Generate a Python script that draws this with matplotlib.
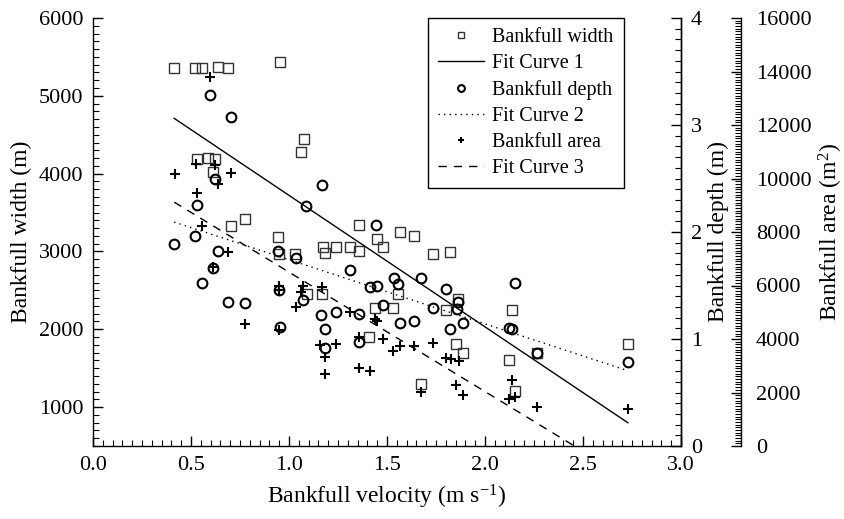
import matplotlib
matplotlib.use("Agg")
import matplotlib.pyplot as plt
from matplotlib.ticker import MultipleLocator

plt.rcParams['font.family'] = ['Liberation Serif', 'DejaVu Serif']
plt.rcParams['mathtext.fontset'] = 'custom'
plt.rcParams['mathtext.rm'] = 'Liberation Serif'
plt.rcParams['mathtext.it'] = 'Liberation Serif:italic'

# ---- data: bankfull width (m) ----
width_v = [0.414, 0.520, 0.554, 0.638, 0.689, 0.954, 1.075, 1.059, 0.531, 0.589,
           0.620, 0.610, 0.706, 0.774, 0.944, 0.947, 1.032, 1.356, 1.450, 1.567,
           1.640, 1.482, 1.173, 1.241, 1.309, 1.356, 1.183, 1.735, 1.823, 1.555,
           1.170, 1.092, 1.864, 1.441, 1.533, 1.802, 1.407, 1.854, 1.890, 1.676,
           2.136, 2.124, 2.263, 2.155, 2.729]
width_m = [5361, 5361, 5361, 5374, 5361, 5438, 4449, 4278, 4192, 4201,
           4192, 4025, 3327, 3417, 3190, 2963, 2963, 3336, 3156, 3250,
           3195, 3061, 3061, 3057, 3057, 3010, 2976, 2971, 2993, 2449,
           2449, 2449, 2383, 2269, 2269, 2248, 1897, 1807, 1691, 1293,
           2244, 1601, 1691, 1207, 1807]

# ---- data: bankfull depth (m) ----
depth_v = [0.596, 0.704, 0.620, 0.530, 0.520, 0.414, 0.637, 0.613, 0.554, 0.689,
           0.774, 0.944, 1.034, 0.947, 0.956, 1.071, 1.088, 1.168, 1.443, 1.309,
           1.535, 1.674, 1.555, 1.411, 1.450, 1.802, 1.165, 1.241, 1.356, 1.482,
           1.737, 1.863, 1.856, 1.567, 1.640, 1.823, 1.890, 1.185, 1.355, 1.185,
           2.153, 2.124, 2.136, 2.263, 2.729]
depth_m = [3.277, 3.075, 2.500, 2.248, 1.964, 1.890, 1.824, 1.668, 1.528, 1.347,
           1.335, 1.824, 1.761, 1.459, 1.116, 1.366, 2.242, 2.442, 2.065, 1.644,
           1.574, 1.574, 1.516, 1.490, 1.500, 1.471, 1.228, 1.251, 1.235, 1.319,
           1.288, 1.350, 1.279, 1.153, 1.172, 1.092, 1.153, 1.097, 0.973, 0.914,
           1.522, 1.107, 1.097, 0.867, 0.783]

# ---- data: bankfull area (m^2) ----
area_v = [0.596, 0.523, 0.620, 0.416, 0.706, 0.637, 0.530, 0.554, 0.689, 0.613,
          0.949, 1.071, 0.947, 1.063, 1.034, 0.774, 0.949, 1.170, 1.309, 1.441,
          1.450, 1.241, 1.355, 1.482, 1.533, 1.564, 1.640, 1.737, 1.802, 1.827,
          1.866, 1.160, 1.185, 1.185, 1.355, 1.411, 1.676, 1.852, 1.886, 2.136,
          2.124, 2.151, 2.265, 2.729]
area_m2 = [13778, 10538, 10486, 10164, 10202, 9801, 9453, 8211, 7243, 6681,
           5986, 5986, 5836, 5750, 5211, 4564, 4340, 5960, 5013, 4750,
           4680, 3816, 4089, 4014, 3565, 3741, 3741, 3842, 3281, 3255,
           3180, 3767, 3341, 2694, 2918, 2818, 2020, 2282, 1908, 2458,
           1747, 1844, 1459, 1395]

# ---- fitted lines (end points) ----
fit_v = [0.414, 2.729]
fit1_width = [4711, 799]
fit2_depth = [2.093, 0.704]
fit3_area = [9117, -1220]

W, H = 844, 519
fig = plt.figure(figsize=(W / 100, H / 100), dpi=100)
ax = fig.add_axes([93 / W, 73 / H, 588 / W, 428 / H])
ax2 = ax.twinx()
ax3 = ax.twinx()
ax3.spines['right'].set_position(('outward', 43))

tick_fs = 16
lab_fs = 17

for a in (ax, ax2, ax3):
    a.spines['top'].set_visible(False)
    for s in a.spines.values():
        s.set_linewidth(1.0)
for a in (ax2, ax3):
    a.spines['left'].set_visible(False)
    a.spines['bottom'].set_visible(False)

# main axis: width
ax.plot(width_v, width_m, linestyle='none', marker='s', markersize=7,
        markerfacecolor='none', markeredgecolor='#333333', markeredgewidth=1.0,
        label='Bankfull width')
ax.plot(fit_v, fit1_width, color='black', linewidth=1.0, label='Fit Curve 1')
ax.set_xlim(0, 3)
ax.set_ylim(500, 6000)
ax.xaxis.set_major_locator(MultipleLocator(0.5))
ax.xaxis.set_minor_locator(MultipleLocator(0.05))
ax.yaxis.set_major_locator(MultipleLocator(1000))
ax.yaxis.set_minor_locator(MultipleLocator(100))
ax.xaxis.set_major_formatter(plt.FuncFormatter(lambda x, p: f"{x:.1f}"))
ax.tick_params(axis='both', which='both', direction='in', labelsize=tick_fs)
ax.tick_params(axis='both', which='major', length=7, width=1.0, pad=7)
ax.tick_params(axis='both', which='minor', length=4, width=0.8)
ax.set_xlabel('Bankfull velocity (m s$^{\\mathrm{-1}}$)', fontsize=lab_fs, labelpad=6)
ax.set_ylabel('Bankfull width (m)', fontsize=lab_fs, labelpad=5)

# depth axis
ax2.plot(depth_v, depth_m, linestyle='none', marker='o', markersize=7,
         markerfacecolor='none', markeredgecolor='black', markeredgewidth=1.5,
         label='Bankfull depth')
ax2.plot(fit_v, fit2_depth, color='black', linewidth=1.0, linestyle=(0, (1, 3)),
         label='Fit Curve 2')
ax2.set_ylim(0, 4)
ax2.yaxis.set_major_locator(MultipleLocator(1))
ax2.yaxis.set_minor_locator(MultipleLocator(0.1))
ax2.tick_params(axis='y', which='both', direction='in', labelsize=tick_fs)
ax2.tick_params(axis='y', which='major', length=7, width=1.0, pad=7)
ax2.tick_params(axis='y', which='minor', length=4, width=0.8)
ax2.set_ylabel('Bankfull depth (m)', fontsize=lab_fs, labelpad=4)

# area axis
ax3.plot(area_v, area_m2, linestyle='none', marker='+', markersize=7,
         markeredgecolor='black', markeredgewidth=1.5, label='Bankfull area')
ax3.plot(fit_v, fit3_area, color='black', linewidth=1.0, linestyle=(0, (6, 5)),
         label='Fit Curve 3')
ax3.set_ylim(0, 16000)
ax3.yaxis.set_major_locator(MultipleLocator(2000))
ax3.yaxis.set_minor_locator(MultipleLocator(100))
ax3.tick_params(axis='y', which='both', direction='in', labelsize=tick_fs)
ax3.tick_params(axis='y', which='major', length=7, width=1.0, pad=11)
ax3.tick_params(axis='y', which='minor', length=4, width=0.8)
ax3.set_ylabel('Bankfull area (m$^{\\mathrm{2}}$)', fontsize=lab_fs, labelpad=4)

handles = [ax.lines[0], ax.lines[1], ax2.lines[0], ax2.lines[1], ax3.lines[0], ax3.lines[1]]
labels = [h.get_label() for h in handles]
leg = ax3.legend(handles, labels, loc='upper left',
                 bbox_to_anchor=(428 / W, 1 - 18 / H), bbox_transform=fig.transFigure,
                 borderaxespad=0, fontsize=14.5, frameon=True, fancybox=False,
                 framealpha=1, edgecolor='black', markerscale=0.7,
                 handlelength=2.3, handletextpad=0.4, labelspacing=0.34,
                 borderpad=0.5)
leg.get_frame().set_linewidth(1.0)

fig.savefig('out.png', dpi=100)
